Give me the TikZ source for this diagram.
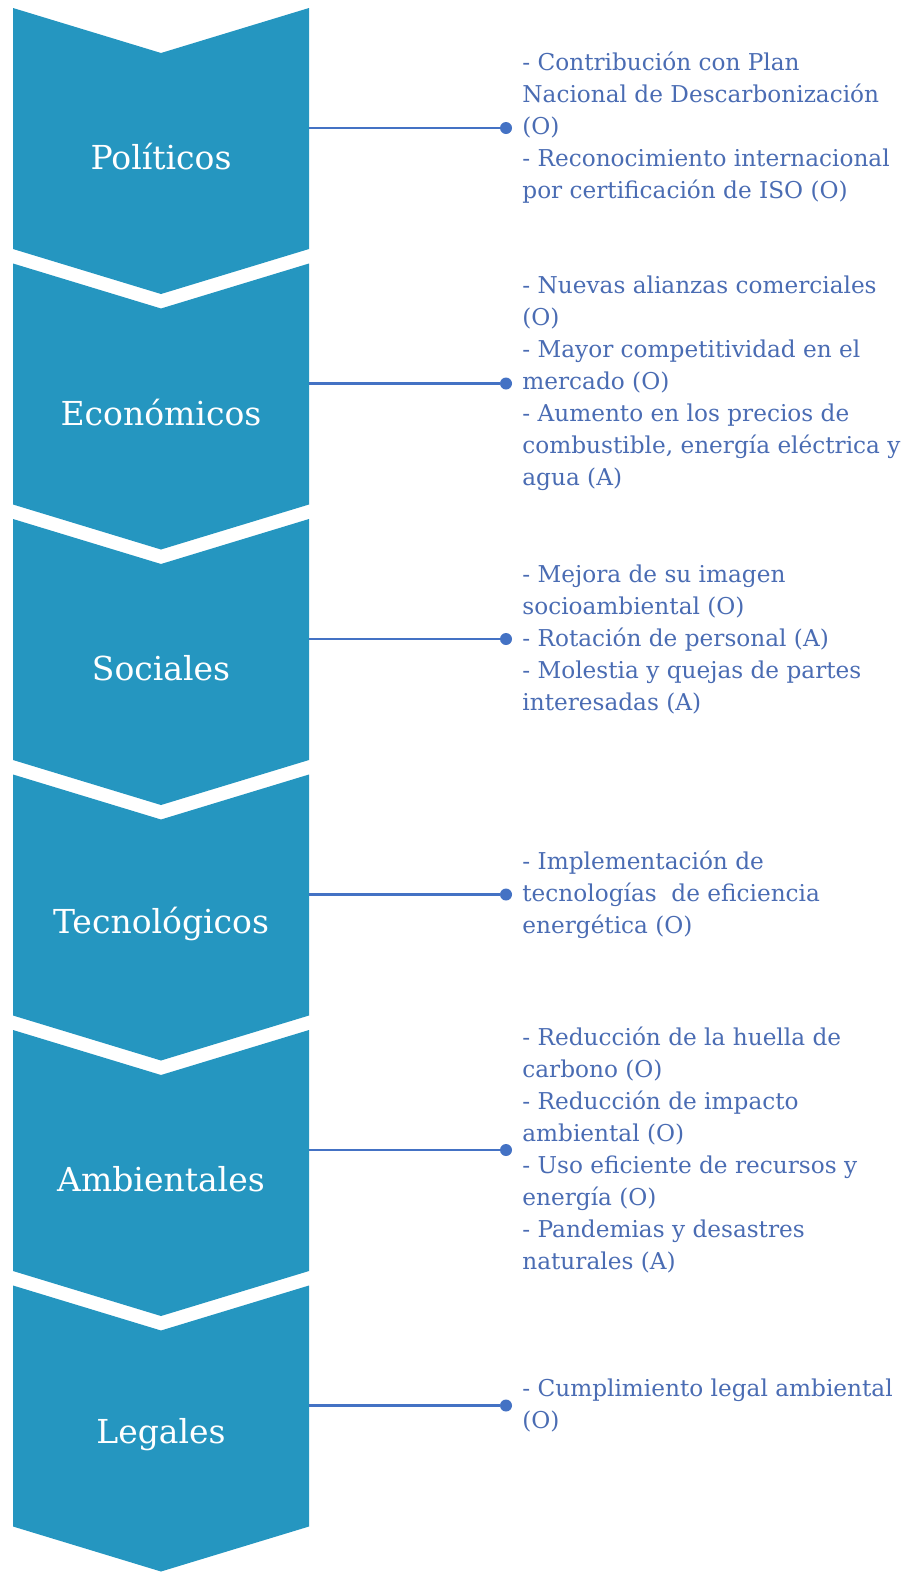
\documentclass[tikz,border=0pt]{standalone}
\usepackage{fontspec}
\setmainfont{DejaVu Serif}
\usepackage{tikz}
\usetikzlibrary{positioning}
\definecolor{chevblue}{HTML}{2596C0}
\definecolor{linkblue}{HTML}{4472C4}
\definecolor{itemblue}{HTML}{4A6CB3}
\tikzstyle{chevron} = [fill=chevblue, draw=none]
\tikzstyle{factor} = [text=white, inner sep=0pt,
    font=\fontsize{33}{40}\selectfont]
\tikzstyle{conn} = [draw=linkblue, line width=2.5pt]
\tikzstyle{dotnode} = [circle, fill=linkblue, inner sep=0pt, minimum size=12pt]
\tikzstyle{items} = [text=itemblue, align=left, inner sep=0pt,
    font=\fontsize{23.2}{32}\selectfont]

\begin{document}
\begin{tikzpicture}[x=1pt, y=-1pt]
                \useasboundingbox (0,0) rectangle (904,1572);
                % chevrons
                \fill[chevron] (13,8) -- ++(148,45) -- ++(148,-45) -- ++(0,241) -- ++(-148,45) -- ++(-148,-45) -- cycle;
                \fill[chevron] (13,263.5) -- ++(148,45) -- ++(148,-45) -- ++(0,241) -- ++(-148,45) -- ++(-148,-45) -- cycle;
                \fill[chevron] (13,519) -- ++(148,45) -- ++(148,-45) -- ++(0,241) -- ++(-148,45) -- ++(-148,-45) -- cycle;
                \fill[chevron] (13,774.5) -- ++(148,45) -- ++(148,-45) -- ++(0,241) -- ++(-148,45) -- ++(-148,-45) -- cycle;
                \fill[chevron] (13,1030) -- ++(148,45) -- ++(148,-45) -- ++(0,241) -- ++(-148,45) -- ++(-148,-45) -- cycle;
                \fill[chevron] (13,1285.5) -- ++(148,45) -- ++(148,-45) -- ++(0,241) -- ++(-148,45) -- ++(-148,-45) -- cycle;
                % factor labels
                \node[factor] (pol) at (161,157) {Políticos};
                \node[factor] (eco) at (161,412.5) {Económicos};
                \node[factor] (soc) at (161,668) {Sociales};
                \node[factor] (tec) at (161,923.5) {Tecnológicos};
                \node[factor] (amb) at (161,1179) {Ambientales};
                \node[factor] (leg) at (161,1434.5) {Legales};
                % edge points and dots
                \coordinate (polR) at (309,128);
                \coordinate (ecoR) at (309,383.5);
                \coordinate (socR) at (309,639);
                \coordinate (tecR) at (309,894.5);
                \coordinate (ambR) at (309,1150);
                \coordinate (legR) at (309,1405.5);
                \node[dotnode] (poldot) at (506,128) {};
                \node[dotnode] (ecodot) at (506,383.5) {};
                \node[dotnode] (socdot) at (506,639) {};
                \node[dotnode] (tecdot) at (506,894.5) {};
                \node[dotnode] (ambdot) at (506,1150) {};
                \node[dotnode] (legdot) at (506,1405.5) {};
                \draw[conn] (polR) -- (poldot);
                \draw[conn] (ecoR) -- (ecodot);
                \draw[conn] (socR) -- (socdot);
                \draw[conn] (tecR) -- (tecdot);
                \draw[conn] (ambR) -- (ambdot);
                \draw[conn] (legR) -- (legdot);
                % item texts
                \node[items, right=10pt of poldot] (poltxt) {- Contribución con Plan\\Nacional de Descarbonización\\(O)\\- Reconocimiento internacional\\por certificación de ISO (O)};
                \node[items, right=10pt of ecodot] (ecotxt) {- Nuevas alianzas comerciales\\(O)\\- Mayor competitividad en el\\mercado (O)\\- Aumento en los precios de\\combustible, energía eléctrica y\\agua (A)};
                \node[items, right=10pt of socdot] (soctxt) {- Mejora de su imagen\\socioambiental (O)\\- Rotación de personal (A)\\- Molestia y quejas de partes\\interesadas (A)};
                \node[items, right=10pt of tecdot] (tectxt) {- Implementación de\\tecnologías~ de eficiencia\\energética (O)};
                \node[items, right=10pt of ambdot] (ambtxt) {- Reducción de la huella de\\carbono (O)\\- Reducción de impacto\\ambiental (O)\\- Uso eficiente de recursos y\\energía (O)\\- Pandemias y desastres\\naturales (A)};
                \node[items, right=10pt of legdot] (legtxt) {- Cumplimiento legal ambiental\\(O)};
            \end{tikzpicture}
\end{document}
